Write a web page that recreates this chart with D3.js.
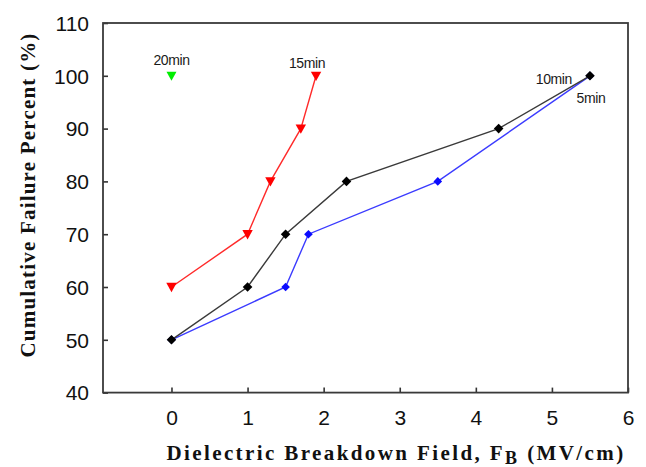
<!DOCTYPE html>
<html>
<head>
<meta charset="utf-8">
<script src="https://cdn.jsdelivr.net/npm/d3@7"></script>
<style>
  html, body { margin: 0; padding: 0; background: #fff; }
  svg { display: block; }
</style>
</head>
<body>
<svg id="chart" width="646" height="467"></svg>
<script>
// Cumulative failure vs. dielectric breakdown field, per anneal time
const xTicks = [0, 1, 2, 3, 4, 5, 6];
const yTicks = [40, 50, 60, 70, 80, 90, 100, 110];

const field5min  = [0, 1.5, 1.8, 3.5, 5.5];
const fail5min   = [50, 60, 70, 80, 100];

const field10min = [0, 1, 1.5, 2.3, 4.3, 5.5];
const fail10min  = [50, 60, 70, 80, 90, 100];

const field15min = [0, 1, 1.3, 1.7, 1.9];
const fail15min  = [60, 70, 80, 90, 100];

const field20min = [0];
const fail20min  = [100];

const seriesNames = ["5min", "10min", "15min", "20min"];

const width = 646, height = 467;
const margin = { top: 23, right: 18, bottom: 74.4, left: 103 };

const svg = d3.select("#chart");

const x = d3.scaleLinear().domain([-0.9, 6]).range([margin.left, width - margin.right]);
const y = d3.scaleLinear().domain([40, 110]).range([height - margin.bottom, margin.top]);

const zip = (xs, ys) => xs.map((v, i) => ({ x: v, y: ys[i] }));

const series = [
  { name: seriesNames[0], pts: zip(field5min, fail5min),   line: "#3b3bff", fill: "#0a0aff", shape: "diamond", size: 4.3,
    label: { dx: 1, dy: 27, anchor: "middle" } },
  { name: seriesNames[1], pts: zip(field10min, fail10min), line: "#3a3a3a", fill: "#000000", shape: "diamond", size: 4.8,
    label: { dx: -18, dy: 8, anchor: "end" } },
  { name: seriesNames[2], pts: zip(field15min, fail15min), line: "#ff2a2a", fill: "#ff0000", shape: "tri", size: 5.2,
    label: { dx: -9, dy: -8, anchor: "middle" } },
  { name: seriesNames[3], pts: zip(field20min, fail20min), line: "#00ee00", fill: "#00ee00", shape: "tri", size: 5.0,
    label: { dx: 0, dy: -11, anchor: "middle" } }
];

// Axes: ticks point inward into the plot box
const xAxis = d3.axisBottom(x).tickValues(xTicks).tickSizeInner(-5).tickSizeOuter(0).tickPadding(17).tickFormat(d3.format("d"));
const yAxis = d3.axisLeft(y).tickValues(yTicks).tickSizeInner(-5).tickSizeOuter(0).tickPadding(14).tickFormat(d3.format("d"));

const gx = svg.append("g").attr("transform", `translate(0,${y(40)})`).call(xAxis);
const gy = svg.append("g").attr("transform", `translate(${x(-0.9)},0)`).call(yAxis);

[gx, gy].forEach(g => {
  g.select(".domain").remove();
  g.selectAll(".tick line").attr("stroke", "#333").attr("stroke-width", 1.6);
  g.selectAll(".tick text")
    .attr("fill", "#111")
    .style("font-family", "'Liberation Sans', Arial, sans-serif")
    .style("font-size", "21px");
});
gx.selectAll(".tick text").attr("dy", "0.75em");
gy.selectAll(".tick text").attr("dy", "0.35em");

// Plot frame
svg.append("rect")
  .attr("x", x(-0.9)).attr("y", y(110))
  .attr("width", x(6) - x(-0.9)).attr("height", y(40) - y(110))
  .attr("fill", "none").attr("stroke", "#3a3a3a").attr("stroke-width", 1.8);

// Series lines and markers
const lineGen = d3.line().x(d => x(d.x)).y(d => y(d.y));

function markerPath(shape, s) {
  if (shape === "diamond") return `M0,${-s}L${s},0L0,${s}L${-s},0Z`;
  // downward-pointing triangle
  return `M${-s},${-s * 0.8}L${s},${-s * 0.8}L0,${s * 1.0}Z`;
}

series.forEach(sr => {
  const g = svg.append("g");
  if (sr.pts.length > 1) {
    g.append("path").datum(sr.pts)
      .attr("d", lineGen)
      .attr("fill", "none")
      .attr("stroke", sr.line)
      .attr("stroke-width", 1.4);
  }
  g.selectAll("path.mk").data(sr.pts).join("path")
    .attr("class", "mk")
    .attr("transform", d => `translate(${x(d.x)},${y(d.y)})`)
    .attr("d", markerPath(sr.shape, sr.size))
    .attr("fill", sr.fill);
});

// Series name labels, placed beside each series' last point
series.forEach(sr => {
  const p = sr.pts[sr.pts.length - 1];
  svg.append("text")
    .attr("x", x(p.x) + sr.label.dx)
    .attr("y", y(p.y) + sr.label.dy)
    .attr("text-anchor", sr.label.anchor)
    .attr("fill", "#1a1a1a")
    .style("font-family", "'Liberation Sans', Arial, sans-serif")
    .style("font-size", "14px")
    .style("letter-spacing", "-0.4px")
    .text(sr.name);
});

// Axis titles
const xTitle = svg.append("text")
  .attr("x", 396)
  .attr("y", 460)
  .attr("text-anchor", "middle")
  .attr("fill", "#111")
  .style("font-family", "'Liberation Serif', 'Times New Roman', serif")
  .style("font-weight", "bold")
  .style("font-size", "21px")
  .style("letter-spacing", "2.4px");
xTitle.append("tspan").text("Dielectric Breakdown Field, F");
xTitle.append("tspan").attr("dy", 4).style("font-size", "18px").text("B");
xTitle.append("tspan").attr("dy", -4).text(" (MV/cm)");

svg.append("text")
  .attr("transform", `translate(35,${195}) rotate(-90)`)
  .attr("text-anchor", "middle")
  .attr("fill", "#111")
  .style("font-family", "'Liberation Serif', 'Times New Roman', serif")
  .style("font-weight", "bold")
  .style("font-size", "21px")
  .style("letter-spacing", "1.2px")
  .text("Cumulative Failure Percent (%)");
</script>
</body>
</html>
